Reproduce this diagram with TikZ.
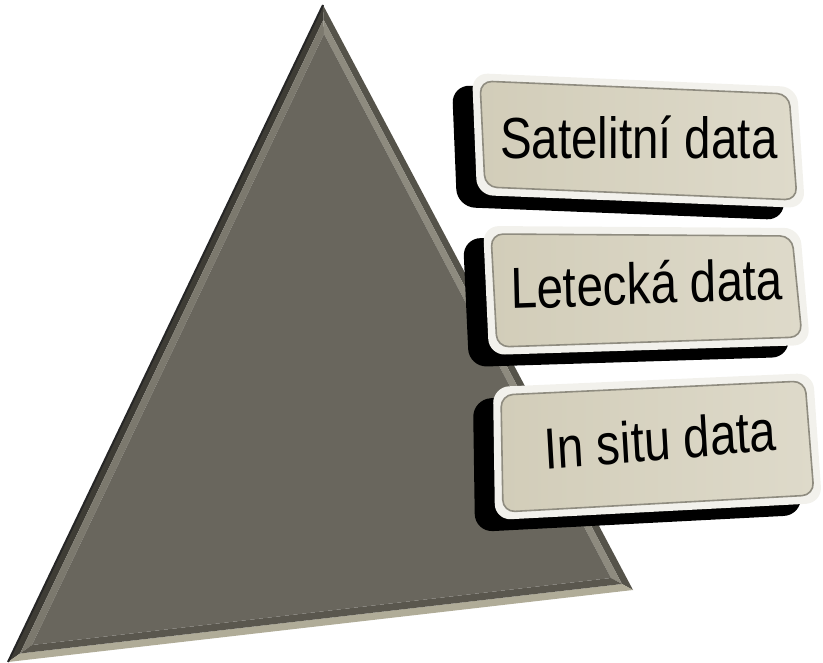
\documentclass[tikz,border=0pt]{standalone}
\usepackage{fontspec}
\setmainfont{Liberation Sans}
\usetikzlibrary{calc}
\definecolor{triface}{HTML}{69665D}
\definecolor{leftout}{HTML}{3E3C35}
\definecolor{leftin}{HTML}{7C796E}
\definecolor{rightout}{HTML}{55534A}
\definecolor{rightin}{HTML}{8E8B7F}
\definecolor{botout}{HTML}{B0AC98}
\definecolor{botin}{HTML}{5A574E}
\definecolor{boxrim}{HTML}{F2F1EC}
\definecolor{boxring}{HTML}{8F8C80}
\definecolor{boxL}{HTML}{D2CDB9}
\definecolor{boxR}{HTML}{DEDACA}
\begin{document}
\begin{tikzpicture}[x=1pt,y=-1pt,
  lbl/.style={inner sep=0pt, font=\fontsize{47.5}{56}\selectfont, text=black, anchor=base west, yscale=1.22},
  shadowbox/.style={fill=black, rounded corners=18pt},
  rimbox/.style={fill=boxrim, rounded corners=16pt},
  facebox/.style={left color=boxL, right color=boxR, draw=boxring, line width=1.6pt, rounded corners=12pt}]
\useasboundingbox (0,0) rectangle (823,663);
% ---------- triangle ----------
\coordinate (A) at (323,5);
\coordinate (B) at (8,662);
\coordinate (C) at (633,590);
\coordinate (Ai) at (324,34);
\coordinate (Bi) at (32,645);
\coordinate (Ci) at (611,578);
\coordinate (Am) at ($(A)!0.5!(Ai)$);
\coordinate (Bm) at ($(B)!0.5!(Bi)$);
\coordinate (Cm) at ($(C)!0.5!(Ci)$);
\fill[leftout] (A) -- (B) -- (Bm) -- (Am) -- cycle;
\fill[leftin] (Am) -- (Bm) -- (Bi) -- (Ai) -- cycle;
\fill[rightout] (A) -- (C) -- (Cm) -- (Am) -- cycle;
\fill[rightin] (Am) -- (Cm) -- (Ci) -- (Ai) -- cycle;
\fill[botout] (B) -- (C) -- (Cm) -- (Bm) -- cycle;
\fill[botin] (Bm) -- (Cm) -- (Ci) -- (Bi) -- cycle;
\fill[triface] (Ai) -- (Bi) -- (Ci) -- cycle;
\draw[black!85, line width=2pt] (A) -- (B);
% ---------- box 1 ----------
\begin{scope}[shift={(-20,12)}]
  \fill[shadowbox] (472,73) -- (797,87) -- (805,208) -- (477,195) -- cycle;
\end{scope}
\fill[rimbox] (472,73) -- (797,87) -- (805,208) -- (477,195) -- cycle;
\path[facebox] (480,81) -- (789,94) -- (797,200) -- (485,187) -- cycle;
\node[lbl] (t1) at (500,159) {Satelitní data};
% ---------- box 2 ----------
\begin{scope}[shift={(-20,12)}]
  \fill[shadowbox] (483,226) -- (800,228) -- (810,345) -- (489,355) -- cycle;
\end{scope}
\fill[rimbox] (483,226) -- (800,228) -- (810,345) -- (489,355) -- cycle;
\path[facebox] (491,234) -- (792,236) -- (802,337) -- (497,347) -- cycle;
\node[lbl, rotate=1.7] (t2) at (511,309) {Letecká data};
% ---------- box 3 ----------
\begin{scope}[shift={(-20,12)}]
  \fill[shadowbox] (493,387) -- (813,373) -- (822,503) -- (495,520) -- cycle;
\end{scope}
\fill[rimbox] (493,387) -- (813,373) -- (822,503) -- (495,520) -- cycle;
\path[facebox] (501,395) -- (805,381) -- (814,495) -- (503,512) -- cycle;
\node[lbl, rotate=4] (t3) at (545,470) {In situ data};
\end{tikzpicture}
\end{document}
